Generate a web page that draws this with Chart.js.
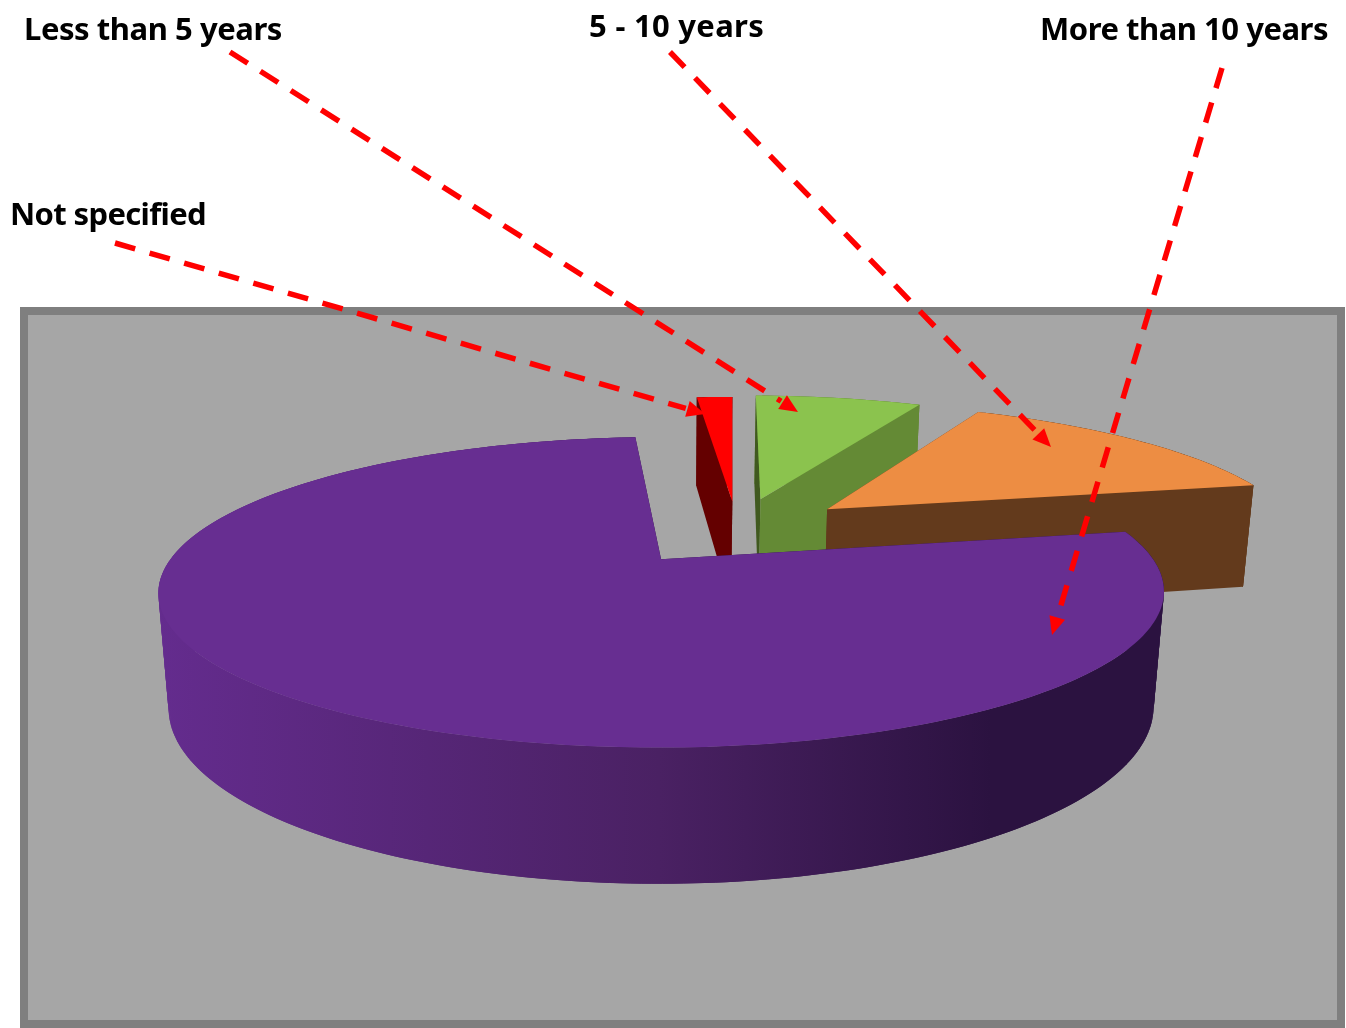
<!DOCTYPE html>
<html>
<head>
<meta charset="utf-8">
<style>
  html, body { margin: 0; padding: 0; background: #fff; }
  canvas { display: block; }
</style>
<script src="https://cdn.jsdelivr.net/npm/chart.js@4/dist/chart.umd.js"></script>
</head>
<body>
<canvas id="pie" width="1346" height="1028"></canvas>
<script>
// Slice order runs clockwise from the top of the pie
const categories = ['Not specified', 'Less than 5 years', '5 - 10 years', 'More than 10 years'];
const shares = [1.5, 7, 14.5, 77];

const topColors = ['#ff0000', '#8bc34e', '#ed8d43', '#672e91'];
const startFaceColors = ['#640000', '#40591f', '#633a1c', '#2b1240'];
const endFaceColors = ['#640000', '#648a35', '#633a1c', '#2b1240'];
const rimColors = ['#640000', '#648a35', '#633a1c', null];
const explode = [0.216, 0.24, 0.253, 0.264];

// Captions above the chart: text, left edge, baseline, width
const captions = [
    ['Less than 5 years', 24, 40, 258],
    ['5 - 10 years', 589, 37, 175],
    ['More than 10 years', 1040, 40, 288],
    ['Not specified', 10, 225, 196]
];
// Dashed pointers: from x, y to x, y
const pointers = [
    [115, 243, 705, 414],
    [230, 52, 798, 412],
    [670, 52, 1051, 447],
    [1222, 68, 1052, 635]
];

// Camera for the tilted disc
const DISC_U = 0.165, DISC_V = -0.22;
const ORIGIN_X = 659.5, ORIGIN_Y = 561;
const SCALE_X = 492.5, SCALE_Y = 149, DEPTH = 114;
const TILT = 0.213, SHRINK = 0.02, ROLL = -1;

function project(u, v, z) {
    const w = 1 - TILT * v + SHRINK * z;
    return {
        x: ORIGIN_X + SCALE_X * u / w,
        y: ORIGIN_Y + (SCALE_Y * v + DEPTH * z + ROLL * u) / w
    };
}

function sliceGeometry(arc, push) {
    const mid = (arc.startAngle + arc.endAngle) / 2;
    const apexU = DISC_U + push * Math.cos(mid);
    const apexV = DISC_V + push * Math.sin(mid);
    const steps = Math.max(2, Math.ceil((arc.endAngle - arc.startAngle) / (Math.PI / 180)));
    const edge = [];
    for (let i = 0; i <= steps; i++) {
        const a = arc.startAngle + (arc.endAngle - arc.startAngle) * i / steps;
        edge.push([apexU + Math.cos(a), apexV + Math.sin(a)]);
    }
    return { apexU, apexV, edge };
}

function fillPoly(ctx, pts, color) {
    ctx.beginPath();
    pts.forEach((p, i) => i ? ctx.lineTo(p.x, p.y) : ctx.moveTo(p.x, p.y));
    ctx.closePath();
    ctx.fillStyle = color;
    ctx.fill();
}

const panelPlugin = {
    id: 'panel',
    beforeDraw(chart) {
        const ctx = chart.ctx;
        ctx.fillStyle = '#7f7f7f';
        ctx.fillRect(20, 307, 1325, 721);
        ctx.fillStyle = '#a6a6a6';
        ctx.fillRect(28, 315, 1309, 705);
    }
};

const pie3dPlugin = {
    id: 'pie3d',
    beforeDatasetsDraw(chart) {
        const ctx = chart.ctx;
        const arcs = chart.getDatasetMeta(0).data;

        const rimGradient = ctx.createLinearGradient(157, 0, 1162, 0);
        rimGradient.addColorStop(0, '#642c8e');
        rimGradient.addColorStop(0.5, '#4a2163');
        rimGradient.addColorStop(0.83, '#2b1240');
        rimGradient.addColorStop(1, '#2b1240');

        arcs.forEach((arc, i) => {
            const g = sliceGeometry(arc, explode[i]);
            const first = g.edge[0];
            const last = g.edge[g.edge.length - 1];

            // rim pieces overlap by one step so no seams show
            for (let k = 0; k < g.edge.length - 1; k++) {
                const a = g.edge[k], b = g.edge[Math.min(k + 2, g.edge.length - 1)];
                fillPoly(ctx, [
                    project(a[0], a[1], 0), project(b[0], b[1], 0),
                    project(b[0], b[1], 1), project(a[0], a[1], 1)
                ], rimColors[i] || rimGradient);
            }

            fillPoly(ctx, [
                project(g.apexU, g.apexV, 0), project(first[0], first[1], 0),
                project(first[0], first[1], 1), project(g.apexU, g.apexV, 1)
            ], startFaceColors[i]);
            fillPoly(ctx, [
                project(g.apexU, g.apexV, 0), project(last[0], last[1], 0),
                project(last[0], last[1], 1), project(g.apexU, g.apexV, 1)
            ], endFaceColors[i]);

            const top = [project(g.apexU, g.apexV, 0)];
            g.edge.forEach(p => top.push(project(p[0], p[1], 0)));
            fillPoly(ctx, top, topColors[i]);
        });
        return false; // the flat arcs are replaced by the tilted ones
    },
    afterDraw(chart) {
        const ctx = chart.ctx;
        ctx.save();
        ctx.fillStyle = '#000';
        ctx.textBaseline = 'alphabetic';
        ctx.font = 'bold 31px "Noto Sans"';
        captions.forEach(([text, x, y, width]) => {
            ctx.letterSpacing = '0px';
            const natural = ctx.measureText(text).width;
            ctx.letterSpacing = ((width - natural) / text.length) + 'px';
            ctx.fillText(text, x, y);
        });
        ctx.letterSpacing = '0px';

        pointers.forEach(([x1, y1, x2, y2]) => {
            const angle = Math.atan2(y2 - y1, x2 - x1);
            const head = 20;
            ctx.beginPath();
            ctx.moveTo(x1, y1);
            ctx.lineTo(x2 - Math.cos(angle) * head, y2 - Math.sin(angle) * head);
            ctx.setLineDash([21, 15]);
            ctx.lineWidth = 5.5;
            ctx.strokeStyle = '#ff0000';
            ctx.stroke();
            ctx.setLineDash([]);

            ctx.beginPath();
            ctx.moveTo(x2, y2);
            ctx.lineTo(x2 - Math.cos(angle - 0.42) * head, y2 - Math.sin(angle - 0.42) * head);
            ctx.lineTo(x2 - Math.cos(angle + 0.42) * head, y2 - Math.sin(angle + 0.42) * head);
            ctx.closePath();
            ctx.fillStyle = '#ff0000';
            ctx.fill();
        });
        ctx.restore();
    }
};

new Chart(document.getElementById('pie'), {
    type: 'pie',
    data: {
        labels: categories,
        datasets: [{
            data: shares,
            backgroundColor: topColors,
            borderWidth: 0
        }]
    },
    options: {
        responsive: false,
        animation: false,
        rotation: -3.6,
        events: [],
        plugins: {
            legend: { display: false },
            tooltip: { enabled: false }
        }
    },
    plugins: [panelPlugin, pie3dPlugin]
});
</script>
</body>
</html>
